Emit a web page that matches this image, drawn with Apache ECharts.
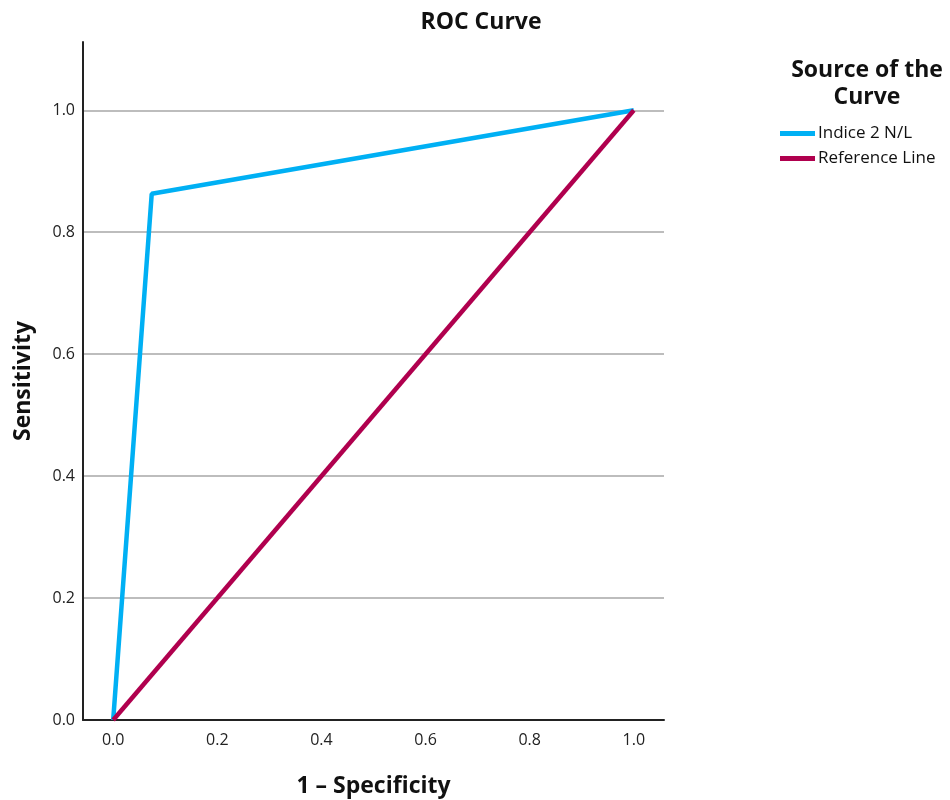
<!DOCTYPE html>
<html>
<head>
<meta charset="utf-8">
<script src="https://cdn.jsdelivr.net/npm/echarts@6/dist/echarts.min.js"></script>
<style>html,body{margin:0;padding:0;background:#fff}#c{width:950px;height:800px}</style>
</head>
<body>
<div id="c"></div>
<script>
const xTicks = [0, 0.2, 0.4, 0.6, 0.8, 1.0];
const yTicks = [0, 0.2, 0.4, 0.6, 0.8, 1.0];
const rocX = [0, 0.074, 1.0];
const rocY = [0, 0.863, 1.0];
const refX = [0, 1.0];
const refY = [0, 1.0];
const seriesNames = ['Indice 2 N/L', 'Reference Line'];

const FONT = '"Open Sans", "DejaVu Sans", sans-serif';
const chart = echarts.init(document.getElementById('c'), null, {renderer: 'canvas'});
chart.setOption({
  animation: false,
  backgroundColor: '#fff',
  title: [
    {text: 'ROC Curve', left: 476, top: 6, textAlign: 'center',
     textStyle: {fontFamily: FONT, fontWeight: 'bold', fontSize: 23, color: '#111'}},
    {text: 'Source of the\nCurve', left: 862, top: 52, textAlign: 'center',
     textStyle: {fontFamily: FONT, fontWeight: 'bold', fontSize: 23, lineHeight: 27, color: '#111'}}
  ],
  legend: {
    orient: 'vertical', left: 775, top: 120, itemWidth: 35, itemHeight: 5, itemGap: 8,
    icon: 'rect',
    textStyle: {fontFamily: FONT, fontSize: 17, color: '#111', padding: [0, 0, 0, -2]},
    data: seriesNames
  },
  grid: {left: 83, right: 286, top: 42, bottom: 80, containLabel: false, outerBoundsMode: 'none'},
  xAxis: {
    type: 'value', min: -0.058, max: 1.058,
    name: '1 \u2013 Specificity', nameLocation: 'middle', nameGap: 55,
    nameTextStyle: {fontFamily: FONT, fontWeight: 'bold', fontSize: 23, color: '#111'},
    axisLine: {show: true, onZero: false, lineStyle: {color: '#222', width: 2}},
    axisTick: {show: false, customValues: xTicks},
    axisLabel: {customValues: xTicks, margin: 12, fontFamily: FONT, fontSize: 16, color: '#222',
                formatter: v => v.toFixed(1)},
    splitLine: {show: false}
  },
  yAxis: {
    type: 'value', min: 0, max: 1.112,
    name: 'Sensitivity', nameLocation: 'middle', nameGap: 48,
    nameTextStyle: {fontFamily: FONT, fontWeight: 'bold', fontSize: 23, color: '#111'},
    axisLine: {show: true, onZero: false, lineStyle: {color: '#222', width: 2}},
    axisTick: {show: false, customValues: yTicks},
    axisLabel: {customValues: yTicks, margin: 8, fontFamily: FONT, fontSize: 16, color: '#222',
                formatter: v => v.toFixed(1)},
    splitLine: {show: true, lineStyle: {color: '#bdbdbd', width: 2}}
  },
  series: [
    {name: seriesNames[0], type: 'line', data: rocX.map((x, i) => [x, rocY[i]]),
     showSymbol: false, symbol: 'none', clip: false, lineStyle: {color: '#00b0f4', width: 4.5}, itemStyle: {color: '#00b0f4'}},
    {name: seriesNames[1], type: 'line', data: refX.map((x, i) => [x, refY[i]]),
     showSymbol: false, symbol: 'none', clip: false, lineStyle: {color: '#b0004e', width: 4.5}, itemStyle: {color: '#b0004e'}}
  ]
});
</script>
</body>
</html>
